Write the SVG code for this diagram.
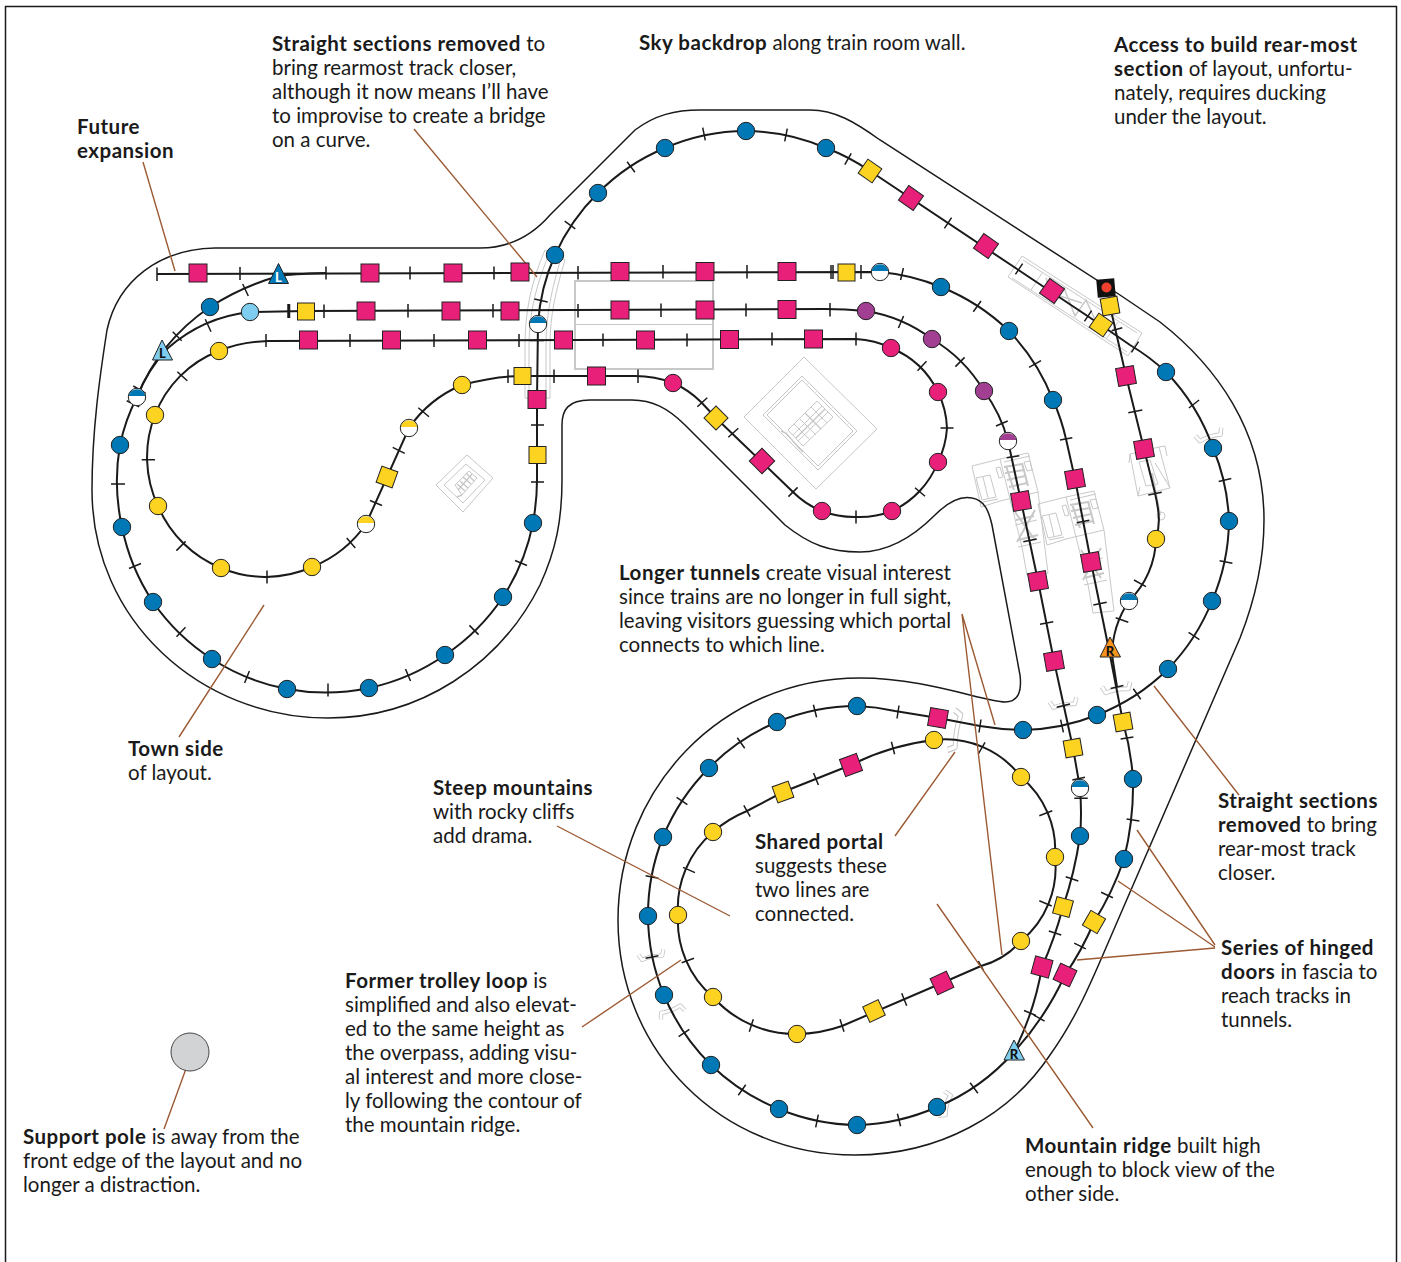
<svg xmlns="http://www.w3.org/2000/svg" width="1401" height="1262" viewBox="0 0 1401 1262">
<style>
text{font-family:"Lato","Liberation Sans",sans-serif;font-size:20.5px;fill:#1a1a1a}
.bd{font-weight:700;letter-spacing:.5px}
.frame,.contour{fill:none;stroke:#1a1a1a;stroke-width:1.5}
.track{fill:none;stroke:#1a1a1a;stroke-width:2}
.ticks{fill:none;stroke:#1a1a1a;stroke-width:1.5}
.lead{fill:none;stroke:#9c5a33;stroke-width:1.4}
.gray{fill:none;stroke:#c8c8c8;stroke-width:1}
.gray2{fill:none;stroke:#c8c8c8;stroke-width:2}
.nd{stroke:#222;stroke-width:1}
.b{fill:#0078b5}.p{fill:#e9207a}.y{fill:#fcd321}.u{fill:#a23f92}.l{fill:#7ecdee}.o{fill:#f7941d}
.tl{font-size:13px;font-weight:900;text-anchor:middle;fill:#111}
</style>
<defs>
<g id="door"><path d="M-15 -6 L-12 1 Q0 -2 12 1 L15 -6" fill="none" stroke="#c8c8c8" stroke-width="5" stroke-linejoin="round"/><path d="M-15 -6 L-12 1 Q0 -2 12 1 L15 -6" fill="none" stroke="#fff" stroke-width="3" stroke-linejoin="round"/></g>
<g id="hb"><circle r="8.7" fill="#fff"/><path d="M-8.500 -1A8.700 8.700 0 0 1 8.500 -1Z" class="b"/><circle r="8.7" fill="none" stroke="#222"/></g>
<g id="hu"><circle r="8.7" fill="#fff"/><path d="M-8.500 -1A8.700 8.700 0 0 1 8.500 -1Z" class="u"/><circle r="8.7" fill="none" stroke="#222"/></g>
<g id="hy"><circle r="8.7" fill="#fff"/><path d="M-8.500 -1A8.700 8.700 0 0 1 8.500 -1Z" class="y"/><circle r="8.7" fill="none" stroke="#222"/></g>
<g id="tower">
<path class="gray" d="M972 466L1000 459L1028 453L1038 492L1000 501L981 507ZM976 478L990 475L996 497L982 500ZM983 477L988 498M983 502L998 499M1000 459L1022 547L1027 575L1048 573L1038 492M1015 525L1037 520M1018 547L1041 542M996 468L1000 467L1003 477L999 478ZM1024 462L1030 461L1032 470L1027 471ZM1004 462L1030 456"/>
<path class="gray2" d="M1004 467L1022 464M1005 473L1024 470M1007 480L1025 476M1009 487L1027 483M1006 466L1014 490M1022 463L1028 486M1015 512L1035 540M1035 510L1017 542M1016 520L1034 516M1018 540L1038 535"/>
</g>
</defs>
<path class="frame" d="M5.500 1262V6.500H1396.500V1262"/>

<g id="scenery">
<path class="gray2" d="M575 281H713V369H575Z" stroke-width="1.5"/>
<path class="gray" d="M575 324.500H713"/>
<path class="gray" d="M525 398V345C525 310 532 280 545 250L550 252C537 282 529 312 529 345V398M550 398V345C550 315 556 290 565 260L561 258C552 288 546 315 546 345V398M525 398H550"/>
<path class="gray" d="M804 357L877 429L816 489L744 417ZM802 376L857 431L818 470L763 415ZM802 380L853 431L818 466L767 415ZM817 401L833 417L803 446L788 430ZM811 407L827 423M805 413L821 429M800 419L816 435M794 424L810 440M822 406L793 435M828 412L798 441"/>
<path class="gray2" d="M825 409L796 438M805 413L821 429M781 431L786 433L799 448L803 452" style="stroke-width:1.4"/>
<path class="gray" d="M467 455L493 478L463 512L436 485ZM466 464L485 480L463 503L444 485ZM469 471L477 478L462 495L455 485Z"/>
<path class="gray" d="M466 473L474 481M463 477L471 484M460 481L468 488M457 484L465 491M472 474L458 490M462 495L457 497" style="stroke-width:1.4"/>
<path class="gray" d="M1022 256L1142 333L1128 356L1008 277ZM1023 260L1137 333M1012 278L1127 352M1042 273L1031 290M1118 322L1107 338"/>
<path class="gray2" d="M1046 278L1053 300L1064 288L1075 316L1086 300L1098 326M1060 296L1082 303" style="stroke-width:1.5"/>
<use href="#tower"/><use href="#tower" transform="translate(66 38)"/>
<path class="gray" d="M1130 454L1159 447L1170 488L1138 496ZM1130 454L1129 463M1159 447L1165 446L1167 456M1138 496L1140 487M1170 488L1165 479M1139 462L1150 460L1158 484L1146 486ZM1155 463L1166 481"/>
<circle class="gray" cx="1161" cy="516" r="4"/>
<path class="gray2" d="M1152 473L1160 515"/>
<use href="#door" transform="translate(1210 437) rotate(-18) scale(.9)"/>
<use href="#door" transform="translate(1064 705) rotate(-10) scale(.9)"/>
<use href="#door" transform="translate(1117 690) rotate(-10) scale(.95)"/>
<use href="#door" transform="translate(957 731) rotate(-80) scale(1.350 1)"/>
<use href="#door" transform="translate(652 957) rotate(-12) scale(.85)"/>
<use href="#door" transform="translate(671 1010) rotate(159) scale(.85)"/>
<use href="#door" transform="translate(947 1105) rotate(-75) scale(.85 1)"/>
</g>

<g id="contours">
<path class="contour" d="M480 248H215C160 249 118 280 107 330C100 375 92 430 92 490C92 620 200 718 328 718C420 718 500 665 540 585C556 550 562 520 562 480V425C562 410 568 400 590 400H632C652 400 668 408 685 425L785 525C810 545 830 552 860 552C890 552 915 535 935 515C950 500 962 496 972 498C985 500 989 512 992 525L1020 675C1022 692 1018 702 1005 702C985 702 925 678 860 678C720 678 618 790 618 920C618 1050 720 1155 855 1155C940 1155 1010 1115 1050 1055C1075 1020 1090 985 1105 950L1240 638C1255 600 1264 560 1264 520C1264 430 1215 365 1160 322L1120 295L880 140C855 122 835 110 810 110H700C675 110 655 115 635 130L550 215C530 238 505 248 480 248Z"/>
</g>

<g id="connectors">
<path class="track" d="M137 397A190 190 0 0 0 120 445A210 210 0 0 0 122 527A210 210 0 0 0 153 602A210 210 0 0 0 212 659A210 210 0 0 0 287 689A210 210 0 0 0 369 688A210 210 0 0 0 445 655A210 210 0 0 0 503 597A210 210 0 0 0 533 523Q537 500 537 480V399L538 324A200 200 0 0 1 555 255A205 205 0 0 1 598 193A205 205 0 0 1 665 148A205 205 0 0 1 746 131A205 205 0 0 1 826 148A205 205 0 0 1 870 171L1101 325L1130 345A209 209 0 0 1 1166 372A209 209 0 0 1 1213 448A209 209 0 0 1 1229 521A209 209 0 0 1 1212 601A209 209 0 0 1 1168 669A209 209 0 0 1 1097 715A209 209 0 0 1 1023 730A300 300 0 0 1 980 726L938 718L895 711A210 210 0 0 0 857 706A210 210 0 0 0 777 722A210 210 0 0 0 709 768A210 210 0 0 0 663 837A210 210 0 0 0 648 916A210 210 0 0 0 664 995A210 210 0 0 0 711 1065A210 210 0 0 0 779 1109A210 210 0 0 0 857 1125A210 210 0 0 0 937 1107A210 210 0 0 0 1014 1052"/>
<path class="track" d="M1014 1052A300 300 0 0 0 1042 967A400 400 0 0 0 1063 907A400 400 0 0 0 1080 836Q1082 815 1080 788L1073 748L1054 661L1038 581L1021 501L1008 441A150 150 0 0 0 984 391A150 150 0 0 0 932 339A150 150 0 0 0 866 311Q845 309 825 309L306 311L250 312A150 150 0 0 0 168 348A150 150 0 0 0 137 397"/>
<path class="track" d="M1014 1052A300 300 0 0 0 1065 975A300 300 0 0 0 1094 922A300 300 0 0 0 1124 859A300 300 0 0 0 1133 779Q1131 750 1123 722L1109 650L1091 562L1075 479L1066 439A210 210 0 0 0 1053 400A210 210 0 0 0 1009 331A210 210 0 0 0 941 287A210 210 0 0 0 880 272L157 274"/>
<path class="track" d="M326 273Q290 274 279 276A250 250 0 0 0 210 307A200 200 0 0 0 137 397"/>
<path class="track" d="M155 415A110 110 0 0 1 219 351Q240 342 268 341L856 339Q875 340 891 348A90 90 0 0 1 938 392A90 90 0 0 1 947 428A90 90 0 0 1 938 462A90 90 0 0 1 892 511A90 90 0 0 1 856 517A90 90 0 0 1 822 511Q806 505 793 492L716 418L701 402A90 90 0 0 0 673 383Q655 376 635 376L522 376Q495 376 462 385A120 120 0 0 0 409 428L366 524A120 120 0 0 1 312 567A115 115 0 0 1 221 568A115 115 0 0 1 158 506A115 115 0 0 1 155 415"/>
<path class="track" d="M934 740A95 95 0 0 1 1021 777A95 95 0 0 1 1055 857A95 95 0 0 1 1021 941A80 80 0 0 1 981 966L942 983L842 1026A140 140 0 0 1 797 1034A110 110 0 0 1 713 997A100 100 0 0 1 678 915A100 100 0 0 1 713 832A120 120 0 0 1 747 811L783 792L851 765A250 250 0 0 1 934 740Z"/>
<path class="track" d="M1110 306L1126 376L1144 449L1155 493C1160 515 1160 525 1156 539A90 90 0 0 1 1129 601A100 100 0 0 0 1112 655L1117 687"/>
<path class="ticks" d="M157 267.500V281M240 267V280M326 266.500V279.500M410 266.500V279.500M494 266.500V279.500M578 266V279.500M663 265V278.500M747 265V278.500M831 265V279M833 265V279M861 265V279M288 304V318M289.500 304V318M324 304.500V318M408 304V317.500M493 304V317.500M578 304V317.500M661 303.500V317M746 303.500V316.500M830 303V316.500M266 334V347M350 334V347M434 334V347M519 334V347M603 333.500V346.500M687 333.500V346.500M772 332.500V345.500M856 332.500V345.500M508 369.500V383M554 369.500V383M638 369.500V383M530 340.500H544M531 425H544M531 482H544M534.300 299L547.700 302M242.700 284L248.300 296M172.700 331.700L181.700 340.700M205.300 319.300L211 331.700M177.300 371.700L187.300 380.700M141.700 459.700H155M418.300 407.700L429 416.700M392.700 447.300L404.700 453.300M370 500.500L382 505.500M133.300 386L145.700 393.300M126.700 400.700L139.300 406.700M111 484H125M129 568.500L141 563.500M176.500 636.700L185.500 627.300M244.600 683L249.400 671M328 683.500V696.500M405.500 669L410.500 681M469.400 625.400L478.600 634.600M515 560.500L527 565.500M176.400 550.600L185.600 541.400M267 570.500V583.500M346.700 538.100L355.300 547.900M564.700 221.200L575.300 228.800M627.100 161.800L634.900 172.200M702.700 127.600L705.300 140.400M787.300 128.600L784.700 141.400M851.200 153.400L844.800 164.600M951.600 217.600L944.400 228.400M1022.600 263.600L1015.400 274.400M1091.600 310.600L1084.400 321.400M1138.600 341.600L1131.400 352.400M1188.900 408L1199.100 400M1218.700 481.600L1231.300 478.400M1219.600 560.700L1232.400 563.300M1188.600 632.400L1199.400 639.600M1133.300 688.700L1140.700 699.300M1060.600 719.700L1063.400 732.300M981 719.500L979 732.500M899 705.500L897 718.500M813.400 704.700L816.600 717.300M737.300 737.700L744.700 748.300M676.600 797.400L687.400 804.600M645.600 875.700L658.400 878.300M645.600 958.300L658.400 955.700M678.600 1036.600L689.400 1029.400M738.300 1095.300L745.700 1084.700M815.700 1127.400L818.300 1114.600M897.400 1113.700L900.600 1126.300M970.100 1082.800L977.900 1093.200M1024 1010.500L1036 1015.500M1033.400 1014.800L1044.600 1021.200M1074.200 943.100L1085.800 948.900M1048.800 931L1061.200 935M1101.100 892.200L1112.900 897.800M1126.600 819L1139.400 821M1120.600 739L1133.400 737M1110.600 688.400L1123.400 685.600M1065.700 876.700L1078.300 881M1072.300 780L1085 777.300M1074.300 798.300H1087.700M1056.700 707.300L1070 704M1040 624.300L1053.300 621.700M1023.300 541.700L1036.700 539M1006.700 457.700L1019.300 455.700M996 426L1007.700 421M955.400 366.600L964.600 357.400M903.600 316L898.400 328M1093.300 605L1106.700 602.300M1076.700 522.700L1089.300 520.300M1060 440L1072.300 437.700M1029 367.300L1041 360.700M973.300 311.700L981 301M900.600 280L903.400 268M1111.700 330.700L1122.300 327.700M1128.300 412.700L1142.300 410M1148.300 495L1161.700 492.300M1134 580L1146 586.700M1115.700 617.700L1128.300 622.300M891.400 741.700L894.600 754.300M813.600 773L818.400 785M743.800 805.400L750.200 816.600M683 867.400L695 872.600M681.700 962.700L694 958.300M749.300 1031.700L753.300 1019.300M844 1031.700L840 1019.300M906.700 1005.700L901.700 993.300M978.300 961L983.300 970M1039.300 900.700L1051.700 906M1039.300 815.700L1052.300 810.700M978.300 754L985 742.300M926.500 361.300L917.500 370.700M940.500 428H953.500M915 487.800L925 496.200M856 510.500V523.500M797.600 487.400L788.400 496.600M728.300 437.300L738.300 428.300M697.300 406.700L707.300 397.700"/>
</g>

<g id="leaders">
<path class="lead" d="M143 162L175 271M414 129L537 277M264 605L179 737M962 614L995 725M962 614L1002 955M895 836L955 752M557 826L730 916M582 1027L681 960M937 904L1093 1128M164 1129L187 1066M1239 795L1154 686M1215 945L1137 830M1215 947L1118 881M1215 948L1077 960"/>
</g>

<g id="nodes">
<g id="pole"><circle cx="190" cy="1052" r="19" fill="#d1d3d4" stroke="#444" stroke-width="1"/></g>
<g id="c1"><circle class="nd b" cx="120" cy="445" r="8.700"/></g>
<g id="c2"><circle class="nd b" cx="122" cy="527" r="8.700"/></g>
<g id="c3"><circle class="nd b" cx="153" cy="602" r="8.700"/></g>
<g id="c4"><circle class="nd b" cx="212" cy="659" r="8.700"/></g>
<g id="c5"><circle class="nd b" cx="287" cy="689" r="8.700"/></g>
<g id="c6"><circle class="nd b" cx="369" cy="688" r="8.700"/></g>
<g id="c7"><circle class="nd b" cx="445" cy="655" r="8.700"/></g>
<g id="c8"><circle class="nd b" cx="503" cy="597" r="8.700"/></g>
<g id="c9"><circle class="nd b" cx="533" cy="523" r="8.700"/></g>
<g id="c10"><circle class="nd b" cx="555" cy="255" r="8.700"/></g>
<g id="c11"><circle class="nd b" cx="598" cy="193" r="8.700"/></g>
<g id="c12"><circle class="nd b" cx="665" cy="148" r="8.700"/></g>
<g id="c13"><circle class="nd b" cx="746" cy="131" r="8.700"/></g>
<g id="c14"><circle class="nd b" cx="826" cy="148" r="8.700"/></g>
<g id="c15"><circle class="nd b" cx="1166" cy="372" r="8.700"/></g>
<g id="c16"><circle class="nd b" cx="1213" cy="448" r="8.700"/></g>
<g id="c17"><circle class="nd b" cx="1229" cy="521" r="8.700"/></g>
<g id="c18"><circle class="nd b" cx="1212" cy="601" r="8.700"/></g>
<g id="c19"><circle class="nd b" cx="1168" cy="669" r="8.700"/></g>
<g id="c20"><circle class="nd b" cx="1097" cy="715" r="8.700"/></g>
<g id="c21"><circle class="nd b" cx="1023" cy="730" r="8.700"/></g>
<g id="c22"><circle class="nd b" cx="857" cy="706" r="8.700"/></g>
<g id="c23"><circle class="nd b" cx="777" cy="722" r="8.700"/></g>
<g id="c24"><circle class="nd b" cx="709" cy="768" r="8.700"/></g>
<g id="c25"><circle class="nd b" cx="663" cy="837" r="8.700"/></g>
<g id="c26"><circle class="nd b" cx="648" cy="916" r="8.700"/></g>
<g id="c27"><circle class="nd b" cx="664" cy="995" r="8.700"/></g>
<g id="c28"><circle class="nd b" cx="711" cy="1065" r="8.700"/></g>
<g id="c29"><circle class="nd b" cx="779" cy="1109" r="8.700"/></g>
<g id="c30"><circle class="nd b" cx="857" cy="1125" r="8.700"/></g>
<g id="c31"><circle class="nd b" cx="937" cy="1107" r="8.700"/></g>
<g id="c32"><circle class="nd b" cx="1124" cy="859" r="8.700"/></g>
<g id="c33"><circle class="nd b" cx="1133" cy="779" r="8.700"/></g>
<g id="c34"><circle class="nd b" cx="1080" cy="836" r="8.700"/></g>
<g id="c35"><circle class="nd b" cx="1053" cy="400" r="8.700"/></g>
<g id="c36"><circle class="nd b" cx="1009" cy="331" r="8.700"/></g>
<g id="c37"><circle class="nd b" cx="941" cy="287" r="8.700"/></g>
<g id="c38"><circle class="nd b" cx="210" cy="307" r="8.700"/></g>
<g id="c39"><circle class="nd l" cx="250" cy="312" r="8.700"/></g>
<g id="c40"><circle class="nd u" cx="866" cy="311" r="8.700"/></g>
<g id="c41"><circle class="nd u" cx="932" cy="339" r="8.700"/></g>
<g id="c42"><circle class="nd u" cx="984" cy="391" r="8.700"/></g>
<g id="c43"><circle class="nd p" cx="891" cy="348" r="8.700"/></g>
<g id="c44"><circle class="nd p" cx="938" cy="392" r="8.700"/></g>
<g id="c45"><circle class="nd p" cx="938" cy="462" r="8.700"/></g>
<g id="c46"><circle class="nd p" cx="892" cy="511" r="8.700"/></g>
<g id="c47"><circle class="nd p" cx="822" cy="511" r="8.700"/></g>
<g id="c48"><circle class="nd p" cx="673" cy="383" r="8.700"/></g>
<g id="c49"><circle class="nd y" cx="155" cy="415" r="8.700"/></g>
<g id="c50"><circle class="nd y" cx="219" cy="351" r="8.700"/></g>
<g id="c51"><circle class="nd y" cx="462" cy="385" r="8.700"/></g>
<g id="c52"><circle class="nd y" cx="158" cy="506" r="8.700"/></g>
<g id="c53"><circle class="nd y" cx="221" cy="568" r="8.700"/></g>
<g id="c54"><circle class="nd y" cx="312" cy="567" r="8.700"/></g>
<g id="c55"><circle class="nd y" cx="1156" cy="539" r="8.700"/></g>
<g id="c56"><circle class="nd y" cx="934" cy="740" r="8.700"/></g>
<g id="c57"><circle class="nd y" cx="1021" cy="777" r="8.700"/></g>
<g id="c58"><circle class="nd y" cx="1055" cy="857" r="8.700"/></g>
<g id="c59"><circle class="nd y" cx="1021" cy="941" r="8.700"/></g>
<g id="c60"><circle class="nd y" cx="797" cy="1034" r="8.700"/></g>
<g id="c61"><circle class="nd y" cx="713" cy="997" r="8.700"/></g>
<g id="c62"><circle class="nd y" cx="678" cy="915" r="8.700"/></g>
<g id="c63"><circle class="nd y" cx="713" cy="832" r="8.700"/></g>
<g id="h1"><use href="#hb" x="137" y="397"/></g>
<g id="h2"><use href="#hb" x="538" y="324"/></g>
<g id="h3"><use href="#hb" x="880" y="272"/></g>
<g id="h4"><use href="#hb" x="1129" y="601"/></g>
<g id="h5"><use href="#hb" x="1080" y="788"/></g>
<g id="h6"><use href="#hu" x="1008" y="441"/></g>
<g id="h7"><use href="#hy" x="409" y="428"/></g>
<g id="h8"><use href="#hy" x="366" y="524"/></g>
<g id="s1"><rect class="nd p" x="189" y="264" width="18" height="18"/></g>
<g id="s2"><rect class="nd p" x="361" y="264" width="18" height="18"/></g>
<g id="s3"><rect class="nd p" x="444" y="264" width="18" height="18"/></g>
<g id="s4"><rect class="nd p" x="511" y="263" width="18" height="18"/></g>
<g id="s5"><rect class="nd p" x="611" y="262.500" width="18" height="18"/></g>
<g id="s6"><rect class="nd p" x="696" y="262.500" width="18" height="18"/></g>
<g id="s7"><rect class="nd p" x="778" y="262.500" width="18" height="18"/></g>
<g id="s8"><rect class="nd y" x="838" y="264" width="17" height="17"/></g>
<g id="s9"><rect class="nd y" x="297.500" y="303" width="17" height="17"/></g>
<g id="s10"><rect class="nd p" x="357" y="302" width="18" height="18"/></g>
<g id="s11"><rect class="nd p" x="442" y="302" width="18" height="18"/></g>
<g id="s12"><rect class="nd p" x="501" y="302" width="18" height="18"/></g>
<g id="s13"><rect class="nd p" x="611" y="301" width="18" height="18"/></g>
<g id="s14"><rect class="nd p" x="696" y="301" width="18" height="18"/></g>
<g id="s15"><rect class="nd p" x="778" y="300.500" width="18" height="18"/></g>
<g id="s16"><rect class="nd p" x="299.500" y="331" width="18" height="18"/></g>
<g id="s17"><rect class="nd p" x="382.500" y="331" width="18" height="18"/></g>
<g id="s18"><rect class="nd p" x="468.500" y="331" width="18" height="18"/></g>
<g id="s19"><rect class="nd p" x="554.500" y="331" width="18" height="18"/></g>
<g id="s20"><rect class="nd p" x="636.500" y="331" width="18" height="18"/></g>
<g id="s21"><rect class="nd p" x="720.500" y="330.500" width="18" height="18"/></g>
<g id="s22"><rect class="nd p" x="804.500" y="330" width="18" height="18"/></g>
<g id="s23"><rect class="nd p" x="587.500" y="367" width="18" height="18"/></g>
<g id="s24"><rect class="nd y" x="514" y="367.500" width="17" height="17"/></g>
<g id="s25"><rect class="nd p" x="528" y="390.500" width="18" height="18"/></g>
<g id="s26"><rect class="nd y" x="529" y="446.500" width="17" height="17"/></g>
<g id="d1"><rect class="nd y" x="-8.500" y="-8.500" width="17" height="17" transform="translate(387 477) rotate(20)"/></g>
<g id="d2"><rect class="nd y" x="-8.500" y="-8.500" width="17" height="17" transform="translate(716 418) rotate(45)"/></g>
<g id="d3"><rect class="nd p" x="-9" y="-9" width="18" height="18" transform="translate(762 461) rotate(45)"/></g>
<g id="d4"><rect class="nd y" x="-8.500" y="-8.500" width="17" height="17" transform="translate(870 171) rotate(35)"/></g>
<g id="d5"><rect class="nd p" x="-9" y="-9" width="18" height="18" transform="translate(911 198) rotate(35)"/></g>
<g id="d6"><rect class="nd p" x="-9" y="-9" width="18" height="18" transform="translate(986 246) rotate(35)"/></g>
<g id="d7"><rect class="nd p" x="-9" y="-9" width="18" height="18" transform="translate(1052 291) rotate(35)"/></g>
<g id="d8"><rect class="nd y" x="-8.500" y="-8.500" width="17" height="17" transform="translate(1101 325) rotate(35)"/></g>
<g id="sig"><rect x="-9" y="-9" width="18" height="18" fill="#111" transform="translate(1106 288) rotate(-5)"/><circle cx="1106.500" cy="287.500" r="5" fill="#ef4030"/></g>
<g id="d9"><rect class="nd y" x="-8.500" y="-8.500" width="17" height="17" transform="translate(1110 306) rotate(-10)"/></g>
<g id="d10"><rect class="nd p" x="-9" y="-9" width="18" height="18" transform="translate(1126 376) rotate(-10)"/></g>
<g id="d11"><rect class="nd p" x="-9" y="-9" width="18" height="18" transform="translate(1144 449) rotate(-10)"/></g>
<g id="d12"><rect class="nd p" x="-9" y="-9" width="18" height="18" transform="translate(1075 479) rotate(-10)"/></g>
<g id="d13"><rect class="nd p" x="-9" y="-9" width="18" height="18" transform="translate(1091 562) rotate(-10)"/></g>
<g id="d14"><rect class="nd p" x="-9" y="-9" width="18" height="18" transform="translate(1021 501) rotate(-10)"/></g>
<g id="d15"><rect class="nd p" x="-9" y="-9" width="18" height="18" transform="translate(1038 581) rotate(-10)"/></g>
<g id="d16"><rect class="nd p" x="-9" y="-9" width="18" height="18" transform="translate(1054 661) rotate(-10)"/></g>
<g id="d17"><rect class="nd y" x="-8.500" y="-8.500" width="17" height="17" transform="translate(1073 748) rotate(-10)"/></g>
<g id="d18"><rect class="nd y" x="-8.500" y="-8.500" width="17" height="17" transform="translate(1123 722) rotate(-10)"/></g>
<g id="d19"><rect class="nd p" x="-9" y="-9" width="18" height="18" transform="translate(938 718) rotate(10)"/></g>
<g id="d20"><rect class="nd p" x="-9" y="-9" width="18" height="18" transform="translate(851 765) rotate(-20)"/></g>
<g id="d21"><rect class="nd y" x="-8.500" y="-8.500" width="17" height="17" transform="translate(783 792) rotate(-20)"/></g>
<g id="d22"><rect class="nd y" x="-8.500" y="-8.500" width="17" height="17" transform="translate(874 1011) rotate(-25)"/></g>
<g id="d23"><rect class="nd p" x="-9" y="-9" width="18" height="18" transform="translate(942 983) rotate(-25)"/></g>
<g id="d24"><rect class="nd y" x="-8.500" y="-8.500" width="17" height="17" transform="translate(1063 907) rotate(15)"/></g>
<g id="d25"><rect class="nd y" x="-8.500" y="-8.500" width="17" height="17" transform="translate(1094 922) rotate(30)"/></g>
<g id="d26"><rect class="nd p" x="-9" y="-9" width="18" height="18" transform="translate(1065 975) rotate(25)"/></g>
<g id="d27"><rect class="nd p" x="-9" y="-9" width="18" height="18" transform="translate(1042 967) rotate(15)"/></g>
<g id="t1"><path class="nd b" d="M278.500 263.500L288.500 283.500H268.500Z"/><text class="tl" x="278.500" y="281.500" style="fill:#fff">L</text></g>
<g id="t2"><path class="nd l" d="M162 340L172.500 360H152.500Z"/><text class="tl" x="162.500" y="358">L</text></g>
<g id="t3"><path class="nd o" d="M1110 637L1120.500 657H1100Z"/><text class="tl" x="1110" y="655.500">R</text></g>
<g id="t4"><path class="nd l" d="M1014 1040L1024.500 1060H1004Z"/><text class="tl" x="1014" y="1059">R</text></g>
</g>

<g id="labels">
<text x="272" y="51"><tspan class="bd">Straight sections removed</tspan> to</text>
<text x="272" y="75">bring rearmost track closer,</text>
<text x="272" y="99">although it now means I’ll have</text>
<text x="272" y="123">to improvise to create a bridge</text>
<text x="272" y="147">on a curve.</text>
<text x="77" y="134" class="bd">Future</text>
<text x="77" y="158" class="bd">expansion</text>
<text x="639" y="50"><tspan class="bd">Sky backdrop</tspan> along train room wall.</text>
<text x="1114" y="52" class="bd">Access to build rear-most</text>
<text x="1114" y="76"><tspan class="bd">section</tspan> of layout, unfortu-</text>
<text x="1114" y="100">nately, requires ducking</text>
<text x="1114" y="124">under the layout.</text>
<text x="128" y="756" class="bd">Town side</text>
<text x="128" y="780">of layout.</text>
<text x="619" y="580"><tspan class="bd">Longer tunnels</tspan> create visual interest</text>
<text x="619" y="604">since trains are no longer in full sight,</text>
<text x="619" y="628">leaving visitors guessing which portal</text>
<text x="619" y="652">connects to which line.</text>
<text x="433" y="795" class="bd">Steep mountains</text>
<text x="433" y="819">with rocky cliffs</text>
<text x="433" y="843">add drama.</text>
<text x="755" y="849" class="bd">Shared portal</text>
<text x="755" y="873">suggests these</text>
<text x="755" y="897">two lines are</text>
<text x="755" y="921">connected.</text>
<text x="345" y="988"><tspan class="bd">Former trolley loop</tspan> is</text>
<text x="345" y="1012">simplified and also elevat-</text>
<text x="345" y="1036">ed to the same height as</text>
<text x="345" y="1060">the overpass, adding visu-</text>
<text x="345" y="1084">al interest and more close-</text>
<text x="345" y="1108">ly following the contour of</text>
<text x="345" y="1132">the mountain ridge.</text>
<text x="23" y="1144"><tspan class="bd">Support pole</tspan> is away from the</text>
<text x="23" y="1168">front edge of the layout and no</text>
<text x="23" y="1192">longer a distraction.</text>
<text x="1025" y="1153"><tspan class="bd">Mountain ridge</tspan> built high</text>
<text x="1025" y="1177">enough to block view of the</text>
<text x="1025" y="1201">other side.</text>
<text x="1218" y="808" class="bd">Straight sections</text>
<text x="1218" y="832"><tspan class="bd">removed</tspan> to bring</text>
<text x="1218" y="856">rear-most track</text>
<text x="1218" y="880">closer.</text>
<text x="1221" y="955" class="bd">Series of hinged</text>
<text x="1221" y="979"><tspan class="bd">doors</tspan> in fascia to</text>
<text x="1221" y="1003">reach tracks in</text>
<text x="1221" y="1027">tunnels.</text>
</g>
</svg>
